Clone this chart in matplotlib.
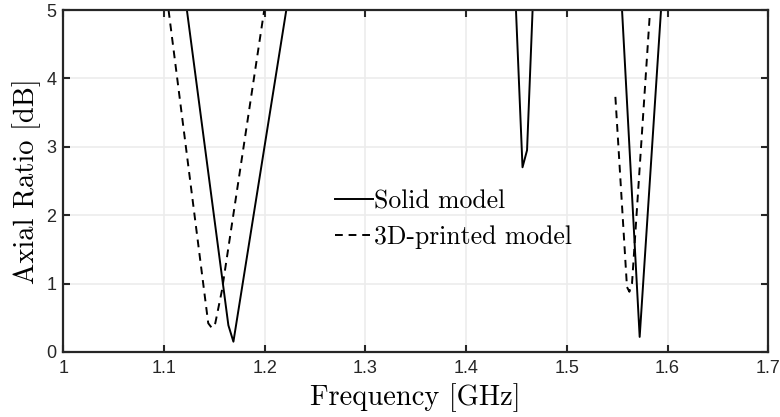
import matplotlib.pyplot as plt
import numpy as np

# solid model, segments separated by nan (curve goes above 5 dB between dips)
solid_f = np.array([1.1228, 1.164, 1.169, 1.2215, np.nan,
                    1.4495, 1.456, 1.4605, 1.466, np.nan,
                    1.5548, 1.5723, 1.5935])
solid_ar = np.array([5, 0.39, 0.15, 5, np.nan,
                     5, 2.70, 2.95, 5, np.nan,
                     5, 0.22, 5])

# 3D-printed model
printed_f = np.array([1.1046, 1.144, 1.1476, 1.151, 1.1576, 1.1996, np.nan,
                      1.5482, 1.5597, 1.5621, 1.5647, 1.5822])
printed_ar = np.array([5, 0.42, 0.35, 0.42, 0.90, 5, np.nan,
                       3.73, 0.95, 0.88, 1.0, 4.9])

xticks = [1, 1.1, 1.2, 1.3, 1.4, 1.5, 1.6, 1.7]
xticklabels = ["1", "1.1", "1.2", "1.3", "1.4", "1.5", "1.6", "1.7"]
yticks = [0, 1, 2, 3, 4, 5]

plt.rcParams['font.family'] = ['Liberation Sans', 'DejaVu Sans']
fig = plt.figure(figsize=(7.8, 4.17), dpi=100)
ax = fig.add_axes([0.081, 0.156, 0.904, 0.82])

ax.plot(solid_f, solid_ar, color='black', lw=1.4, label='Solid model')
ax.plot(printed_f, printed_ar, color='black', lw=1.4, ls=(0, (4, 3)),
        label='3D-printed model')

ax.set_xlim(1, 1.7)
ax.set_ylim(0, 5)
ax.set_xticks(xticks)
ax.set_xticklabels(xticklabels)
ax.set_yticks(yticks)
ax.grid(True, color='#ececec', lw=1.2)
ax.set_axisbelow(True)
ax.tick_params(direction='in', length=5, width=1.5, color='#262626',
               labelsize=13, labelcolor='#262626', top=True, right=True)
ax.tick_params(axis='x', pad=6)
ax.tick_params(axis='y', pad=5)
for s in ax.spines.values():
    s.set_linewidth(1.6)
    s.set_color('#262626')

ax.set_xlabel('Frequency [GHz]', fontfamily='cmr10', fontsize=20.5, labelpad=4)
ax.set_ylabel('Axial Ratio [dB]', fontfamily='cmr10', fontsize=20.5, labelpad=4)

leg = ax.legend(loc='upper left', bbox_to_anchor=(0.386, 0.475), frameon=False,
                prop={'family': 'cmr10', 'size': 18.5}, handlelength=1.45,
                handletextpad=0.05, labelspacing=0.45, borderpad=0,
                borderaxespad=0)

fig.savefig('out.png', dpi=100)
